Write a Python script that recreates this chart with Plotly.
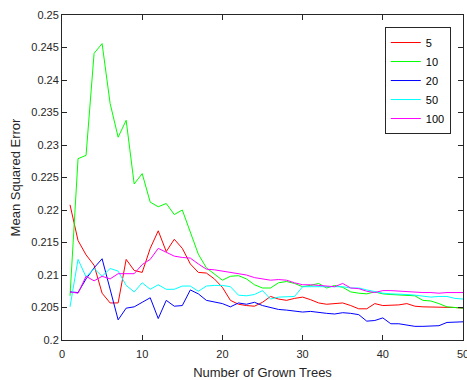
import plotly.graph_objects as go

trees = list(range(1, 51))
series_names = ["5", "10", "20", "50", "100"]
colors = ["#ff0000", "#00ff00", "#0000ff", "#00ffff", "#ff00ff"]

mse_5 = [0.2208, 0.2153, 0.2131, 0.2115, 0.2072, 0.2057, 0.2057, 0.2124, 0.2107, 0.2104,
         0.2141, 0.2168, 0.2136, 0.2155, 0.2141, 0.2117, 0.2104, 0.2103, 0.2094, 0.2081,
         0.2061, 0.2055, 0.2053, 0.2052, 0.2058, 0.2067, 0.2063, 0.2061, 0.2064, 0.2066,
         0.2062, 0.2057, 0.2055, 0.2056, 0.2057, 0.2053, 0.2048, 0.2048, 0.2056, 0.2053,
         0.2053, 0.2054, 0.2056, 0.2052, 0.2051, 0.2051, 0.2051, 0.2051, 0.2050, 0.2049]
mse_10 = [0.2068, 0.2279, 0.2284, 0.2441, 0.2456, 0.2364, 0.2312, 0.2338, 0.2240, 0.2256,
          0.2212, 0.2205, 0.2210, 0.2193, 0.2200, 0.2166, 0.2132, 0.2111, 0.2102, 0.2092,
          0.2098, 0.2099, 0.2094, 0.2085, 0.2080, 0.2080, 0.2088, 0.2090, 0.2087, 0.2082,
          0.2084, 0.2087, 0.2080, 0.2084, 0.2081, 0.2074, 0.2072, 0.2071, 0.2074, 0.2071,
          0.2070, 0.2069, 0.2068, 0.2068, 0.2061, 0.2060, 0.2056, 0.2051, 0.2050, 0.2049]
mse_20 = [0.2074, 0.2073, 0.2094, 0.2111, 0.2125, 0.2079, 0.2031, 0.2049, 0.2051, 0.2058,
          0.2065, 0.2033, 0.2061, 0.2052, 0.2053, 0.2077, 0.2071, 0.2061, 0.2058, 0.2056,
          0.2051, 0.2057, 0.2055, 0.2058, 0.2053, 0.2050, 0.2047, 0.2046, 0.2045, 0.2043,
          0.2044, 0.2042, 0.2041, 0.2040, 0.2042, 0.2041, 0.2039, 0.2029, 0.2030, 0.2034,
          0.2025, 0.2025, 0.2023, 0.2021, 0.2021, 0.2022, 0.2022, 0.2027, 0.2028, 0.2028]
mse_50 = [0.2051, 0.2124, 0.2097, 0.2110, 0.2098, 0.2110, 0.2106, 0.2084, 0.2074, 0.2088,
          0.2078, 0.2085, 0.2078, 0.2078, 0.2083, 0.2083, 0.2075, 0.2083, 0.2084, 0.2084,
          0.2082, 0.2069, 0.2068, 0.2070, 0.2076, 0.2063, 0.2066, 0.2067, 0.2067, 0.2082,
          0.2082, 0.2082, 0.2081, 0.2081, 0.2082, 0.2080, 0.2080, 0.2077, 0.2074, 0.2072,
          0.2071, 0.2071, 0.2070, 0.2069, 0.2068, 0.2066, 0.2067, 0.2067, 0.2064, 0.2063]
mse_100 = [0.2074, 0.2072, 0.2098, 0.2091, 0.2098, 0.2094, 0.2102, 0.2102, 0.2102, 0.2116,
           0.2124, 0.2141, 0.2135, 0.2129, 0.2127, 0.2126, 0.2117, 0.2109, 0.2108, 0.2106,
           0.2104, 0.2103, 0.2100, 0.2096, 0.2094, 0.2092, 0.2093, 0.2092, 0.2088, 0.2085,
           0.2085, 0.2084, 0.2082, 0.2082, 0.2087, 0.2080, 0.2079, 0.2075, 0.2073, 0.2076,
           0.2076, 0.2075, 0.2074, 0.2074, 0.2073, 0.2073, 0.2072, 0.2073, 0.2073, 0.2073]

all_series = [mse_5, mse_10, mse_20, mse_50, mse_100]

x_ticks = [0, 10, 20, 30, 40, 50]
y_ticks = [0.2, 0.205, 0.21, 0.215, 0.22, 0.225, 0.23, 0.235, 0.24, 0.245, 0.25]
y_ticklabels = ["0.2", "0.205", "0.21", "0.215", "0.22", "0.225", "0.23", "0.235", "0.24", "0.245", "0.25"]

fig = go.Figure()
for name, vals, col in zip(series_names, all_series, colors):
    fig.add_trace(go.Scatter(x=trees, y=vals, mode="lines", name=name,
                             line=dict(color=col, width=1)))

axis_common = dict(showgrid=False, zeroline=False, showline=True, linecolor="#262626",
                   linewidth=1, mirror="ticks", ticks="inside", ticklen=5,
                   tickcolor="#262626", automargin=False, ticklabeloverflow="allow",
                   tickfont=dict(family="Liberation Sans, Arial", size=11, color="#262626"))

fig.update_layout(
    width=467, height=380,
    margin=dict(l=62, r=4, t=15, b=40),
    paper_bgcolor="white", plot_bgcolor="white",
    font=dict(family="Liberation Sans, Arial", size=11, color="#262626"),
    xaxis=dict(range=[0, 50], tickvals=x_ticks, ticklabelstandoff=4,
               title=dict(text="Number of Grown Trees", font=dict(size=13), standoff=10),
               **axis_common),
    yaxis=dict(range=[0.2, 0.25], tickvals=y_ticks, ticktext=y_ticklabels,
               title=dict(text="Mean Squared Error", font=dict(size=13), standoff=7),
               **axis_common),
    legend=dict(x=0.805, y=0.963, xanchor="left", yanchor="top",
                bgcolor="white", bordercolor="#262626", borderwidth=1,
                font=dict(size=11, color="#000000"), tracegroupgap=0,
                itemwidth=30),
    showlegend=True,
)

fig.write_html("out.html", config={"displayModeBar": False},
               post_script="document.body.style.margin='0';document.body.style.overflow='hidden';")
